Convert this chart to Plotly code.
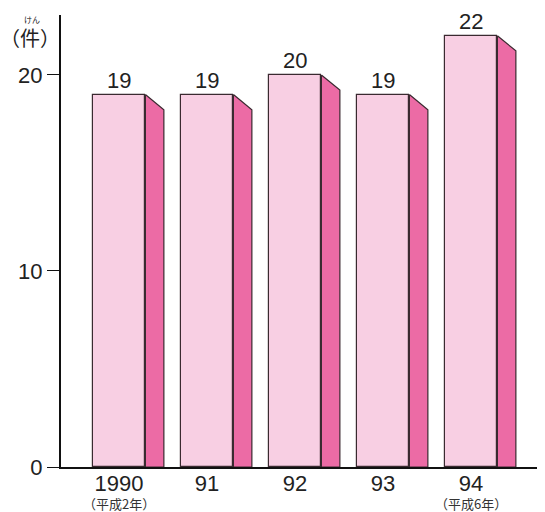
import plotly.graph_objects as go

categories = ["1990", "91", "92", "93", "94"]
era_labels = ["（平成2年）", "", "", "", "（平成6年）"]
values = [19, 19, 20, 19, 22]

front_color = "#F8CFE3"
side_color = "#EC6BA5"
edge_color = "#3a2a30"

pos = list(range(len(categories)))
w = 0.60          # front face width (x units)
dx = 0.21         # depth horizontal (x units)
dy = 0.77         # depth vertical drop (y units)

fig = go.Figure()

# side faces
sx, sy = [], []
for p, v in zip(pos, values):
    xr = p + w / 2
    sx += [xr, xr + dx, xr + dx, xr, xr, None]
    sy += [v, v - dy, 0, 0, v, None]
fig.add_trace(go.Scatter(x=sx, y=sy, mode="lines", fill="toself",
                         fillcolor=side_color,
                         line=dict(color=edge_color, width=1.2),
                         hoverinfo="skip", showlegend=False))

# front faces
fig.add_trace(go.Bar(x=pos, y=values, width=w,
                     marker=dict(color=front_color,
                                 line=dict(color=edge_color, width=1.2)),
                     showlegend=False))

num_font = dict(size=22, color="#222", family="Liberation Sans, Arial")

annotations = []
for p, v in zip(pos, values):
    annotations.append(dict(x=p, y=v, text=str(v), showarrow=False,
                            xanchor="center", yanchor="bottom", yshift=0,
                            font=num_font))
for p, t in zip(pos, era_labels):
    if t:
        annotations.append(dict(x=p, y=0, yref="paper", text=t, showarrow=False,
                                xanchor="center", yanchor="middle", yshift=-36,
                                font=dict(size=13, color="#333",
                                          family="Noto Sans CJK JP")))
annotations.append(dict(x=0, y=1, xref="paper", yref="paper", text="（件）",
                        showarrow=False, xanchor="center", yanchor="middle",
                        xshift=-31, yshift=-22,
                        font=dict(size=20, color="#222", family="Noto Sans CJK JP")))
annotations.append(dict(x=0, y=1, xref="paper", yref="paper", text="けん",
                        showarrow=False, xanchor="center", yanchor="middle",
                        xshift=-29, yshift=-4,
                        font=dict(size=8, color="#222", family="Noto Sans CJK JP")))

# page has an 8px body margin, so the figure is sized/margined to compensate
fig.update_layout(
    width=537, height=504,
    margin=dict(l=53, r=0, t=7, b=45, autoexpand=False),
    paper_bgcolor="white", plot_bgcolor="white",
    annotations=annotations,
    bargap=0,
    xaxis=dict(range=[-0.659, 4.841], tickvals=pos, ticktext=categories,
               showgrid=False, zeroline=False, showline=True,
               linecolor="#111", linewidth=2, ticks="", ticklen=0,
               ticklabelstandoff=-4,
               tickfont=num_font),
    yaxis=dict(range=[0, 23.06], tickvals=[0, 10, 20],
               showgrid=False, zeroline=False, showline=True,
               linecolor="#111", linewidth=2, ticks="outside", ticklen=12,
               tickwidth=1.3, tickcolor="#111",
               tickfont=num_font),
)

fig.write_html("out.html")
